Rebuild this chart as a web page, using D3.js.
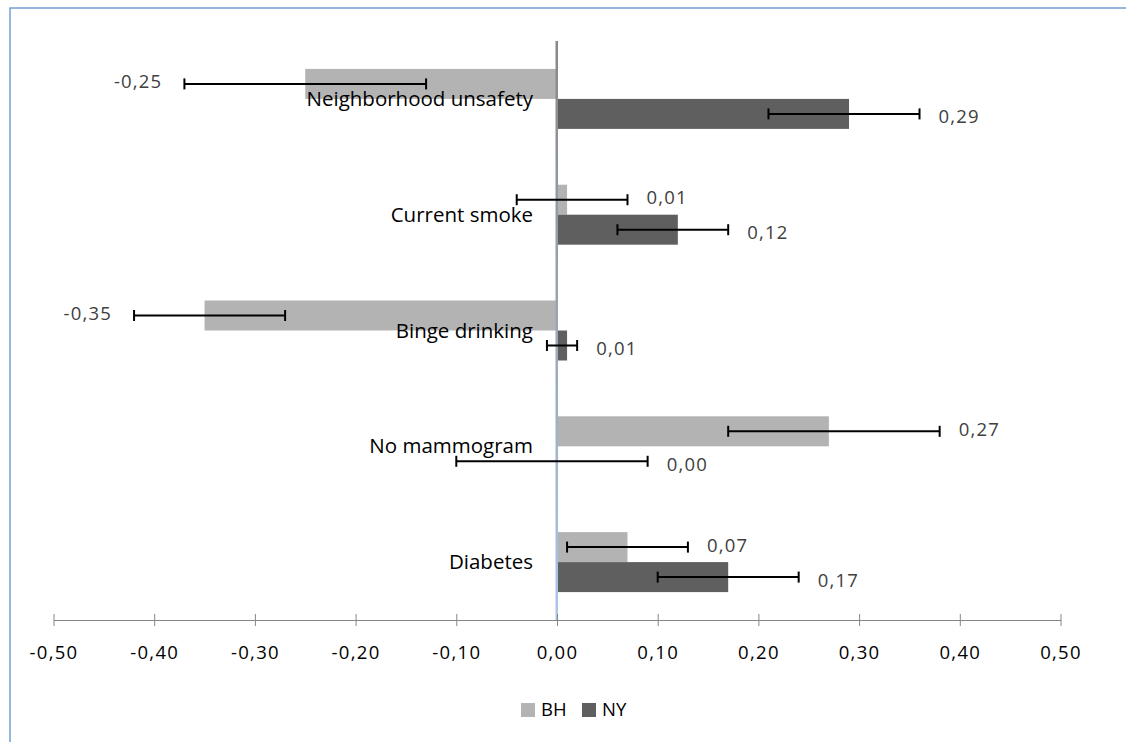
<!DOCTYPE html>
<html>
<head>
<meta charset="utf-8">
<script src="https://cdn.jsdelivr.net/npm/d3@7"></script>
<style>
  body { margin: 0; background: #fff; }
  text { font-family: "Open Sans", sans-serif; }
</style>
</head>
<body>
<div id="chart"></div>
<script>
var categories = ["Neighborhood unsafety", "Current smoke", "Binge drinking", "No mammogram", "Diabetes"];
var seriesNames = ["BH", "NY"];

var bhValues = [-0.25, 0.01, -0.35, 0.27, 0.07];
var bhLow    = [-0.37, -0.04, -0.42, 0.17, 0.01];
var bhHigh   = [-0.13, 0.07, -0.27, 0.38, 0.13];

var nyValues = [0.29, 0.12, 0.01, 0.00, 0.17];
var nyLow    = [0.21, 0.06, -0.01, -0.10, 0.10];
var nyHigh   = [0.36, 0.17, 0.02, 0.09, 0.24];

var xTicks = [-0.5, -0.4, -0.3, -0.2, -0.1, 0, 0.1, 0.2, 0.3, 0.4, 0.5];

var colors = {BH: "#b3b3b3", NY: "#5f5f5f"};

var width = 1126, height = 742;

var locale = d3.formatLocale({decimal: ",", thousands: ".", grouping: [3], currency: ["", ""], minus: "-"});
var fmt = locale.format(".2f");

var rows = [];
categories.forEach(function(c, i){
  rows.push({cat: c, series: "BH", value: bhValues[i], lo: bhLow[i], hi: bhHigh[i]});
  rows.push({cat: c, series: "NY", value: nyValues[i], lo: nyLow[i], hi: nyHigh[i]});
});

var svg = d3.select("#chart").append("svg")
  .attr("width", width)
  .attr("height", height);

// chart frame (only top/left edges visible)
svg.append("rect")
  .attr("x", 10).attr("y", 8)
  .attr("width", 1300).attr("height", 900)
  .attr("fill", "none")
  .attr("stroke", "#6fa0d8")
  .attr("stroke-width", 1.5);

var x = d3.scaleLinear().domain([-0.5, 0.5]).range([53.5, 1060.5]);

var y = d3.scaleBand().domain(categories).range([41, 620])
  .paddingInner(0.482).paddingOuter(0.241);

var ySub = d3.scaleBand().domain(seriesNames).range([0, y.bandwidth()]);

// bars
svg.append("g").selectAll("rect")
  .data(rows).enter()
  .append("rect")
    .attr("x", function(d){return x(Math.min(0, d.value));})
    .attr("y", function(d){return y(d.cat) + ySub(d.series);})
    .attr("width", function(d){return Math.abs(x(d.value) - x(0));})
    .attr("height", ySub.bandwidth())
    .attr("fill", function(d){return colors[d.series];});

// zero / category axis
var grad = svg.append("defs").append("linearGradient")
  .attr("id", "zeroGrad")
  .attr("gradientUnits", "userSpaceOnUse")
  .attr("x1", 0).attr("y1", 41).attr("x2", 0).attr("y2", 620);
grad.append("stop").attr("offset", "0%").attr("stop-color", "#888888");
grad.append("stop").attr("offset", "100%").attr("stop-color", "#a9c8e8");

svg.append("rect")
  .attr("x", x(0) - 1.5).attr("y", 41)
  .attr("width", 2.5).attr("height", 579)
  .attr("fill", "url(#zeroGrad)");

// error bars
var capH = 11;
var err = svg.append("g").attr("stroke", "#000").attr("stroke-width", 2);
rows.forEach(function(d){
  var cy = y(d.cat) + ySub(d.series) + ySub.bandwidth() / 2;
  err.append("line")
    .attr("x1", x(d.lo)).attr("x2", x(d.hi))
    .attr("y1", cy).attr("y2", cy);
  err.append("line")
    .attr("x1", x(d.lo)).attr("x2", x(d.lo))
    .attr("y1", cy - capH / 2).attr("y2", cy + capH / 2);
  err.append("line")
    .attr("x1", x(d.hi)).attr("x2", x(d.hi))
    .attr("y1", cy - capH / 2).attr("y2", cy + capH / 2);
});

// value labels
svg.append("g").selectAll("text")
  .data(rows).enter()
  .append("text")
    .attr("x", function(d){return d.value < 0 ? x(d.lo) - 22 : x(d.hi) + 19;})
    .attr("y", function(d){return y(d.cat) + ySub(d.series) + ySub.bandwidth() / 2 + (d.series == "NY" ? 3 : -2);})
    .attr("dy", "0.35em")
    .attr("text-anchor", function(d){return d.value < 0 ? "end" : "start";})
    .attr("font-size", 18.5)
    .attr("letter-spacing", 1.2)
    .attr("fill", "#404040")
    .text(function(d){return fmt(d.value);});

// category labels
svg.append("g").selectAll("text")
  .data(categories).enter()
  .append("text")
    .attr("x", x(0) - 24)
    .attr("y", function(d){return y(d) + y.bandwidth() / 2;})
    .attr("dy", "0.35em")
    .attr("text-anchor", "end")
    .attr("font-size", 20.5)
    .attr("fill", "#000")
    .text(function(d){return d;});

// value axis
var axis = svg.append("g")
  .attr("transform", "translate(0,620)")
  .call(d3.axisBottom(x).tickValues(xTicks).tickFormat(fmt).tickSize(6).tickSizeOuter(0));

axis.select(".domain").attr("stroke", "#868686");
axis.selectAll(".tick line").attr("stroke", "#868686").attr("y1", -6).attr("y2", 6);
axis.selectAll(".tick text")
  .attr("y", 26)
  .attr("font-size", 18.5)
  .attr("letter-spacing", 1.3)
  .attr("fill", "#000")
  .style("font-family", "'Open Sans', sans-serif");

// legend
var legend = svg.append("g").attr("transform", "translate(521,703)");
var legendX = d3.scaleOrdinal().domain(seriesNames).range([0, 61]);
seriesNames.forEach(function(s){
  legend.append("rect")
    .attr("x", legendX(s)).attr("y", 0)
    .attr("width", 14).attr("height", 14)
    .attr("fill", colors[s]);
  legend.append("text")
    .attr("x", legendX(s) + 20).attr("y", 7)
    .attr("dy", "0.35em")
    .attr("font-size", 18.5)
    .attr("fill", "#000")
    .text(s);
});
</script>
</body>
</html>
